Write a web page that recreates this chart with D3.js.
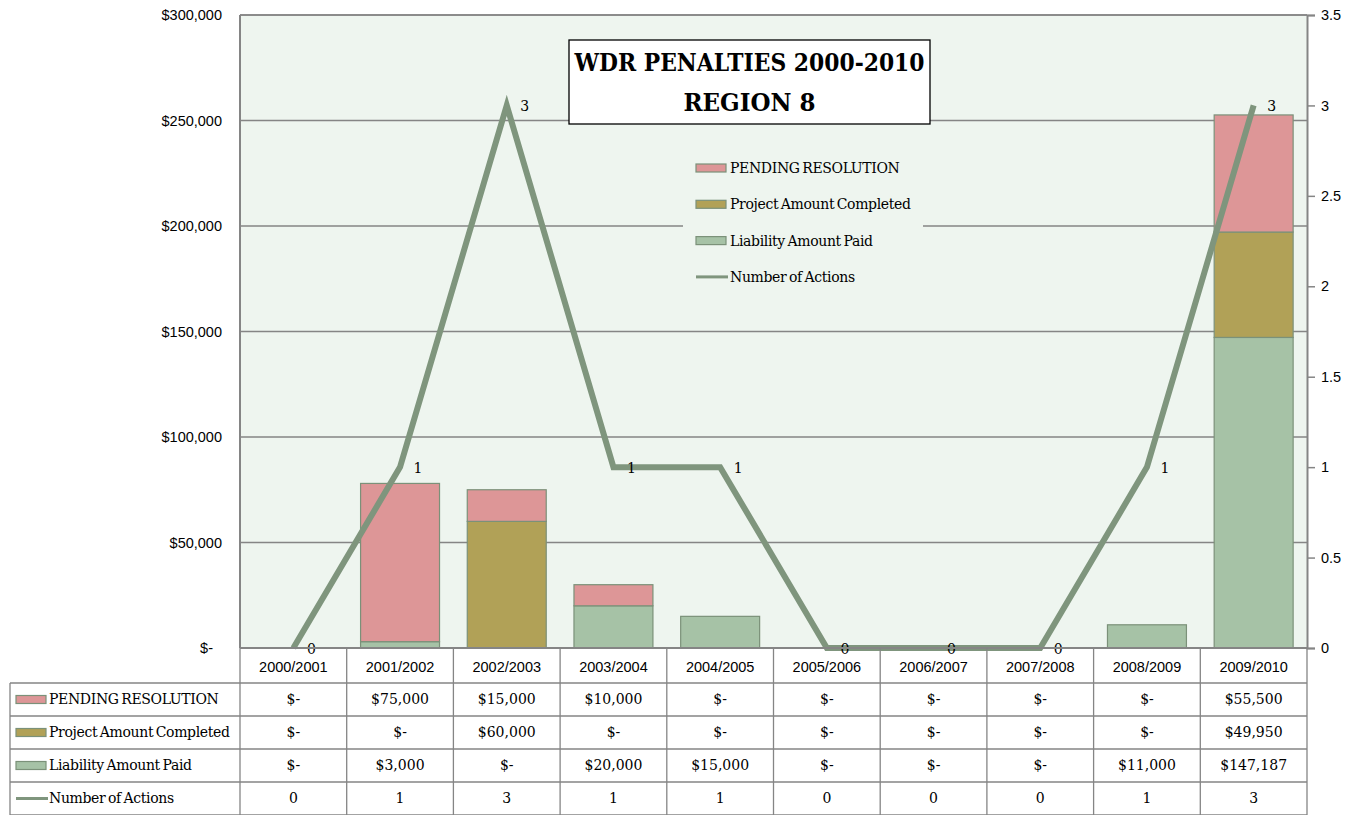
<!DOCTYPE html>
<html>
<head>
<meta charset="utf-8">
<script src="https://cdn.jsdelivr.net/npm/d3@7"></script>
<style>
  body { margin: 0; background: #fff; }
  svg { display: block; }
  .tbl { font-family: "DejaVu Serif", serif; font-size: 14px; fill: #000; }
  .key { letter-spacing: -0.35px; word-spacing: -1.5px; }
  .axis text { font-family: "Liberation Sans", Arial, sans-serif; font-size: 14.5px; fill: #000; }
</style>
</head>
<body>
<div id="chart"></div>
<script>
// data
var categories = ["2000/2001", "2001/2002", "2002/2003", "2003/2004", "2004/2005",
                  "2005/2006", "2006/2007", "2007/2008", "2008/2009", "2009/2010"];
var pending   = [0, 75000, 15000, 10000, 0, 0, 0, 0, 0, 55500];
var project   = [0, 0, 60000, 0, 0, 0, 0, 0, 0, 49950];
var liability = [0, 3000, 0, 20000, 15000, 0, 0, 0, 11000, 147187];
var actions   = [0, 1, 3, 1, 1, 0, 0, 0, 1, 3];
var seriesNames = ["PENDING RESOLUTION", "Project Amount Completed", "Liability Amount Paid", "Number of Actions"];
var leftTicks  = [0, 50000, 100000, 150000, 200000, 250000, 300000];
var rightTicks = [0, 0.5, 1, 1.5, 2, 2.5, 3, 3.5];
var titleLines = ["WDR PENALTIES 2000-2010", "REGION 8"];

var width = 1359, height = 815;
var plotL = 240, plotR = 1307, plotT = 15, plotB = 648;
var colors = {pend: "#dd9697", proj: "#b1a157", liab: "#a6c2a6", line: "#7f957d", edge: "#7b9179"};
var gridColor = "#858585";

var svg = d3.select("#chart").append("svg")
            .attr("width", width)
            .attr("height", height);

var x = d3.scaleBand()
          .domain(categories)
          .range([plotL, plotR])
          .paddingInner(0.26)
          .paddingOuter(0.13);
var xCenter = function(c) { return x(c) + x.bandwidth() / 2; };
var step = (plotR - plotL) / categories.length;

var yLeft = d3.scaleLinear().domain([0, 300000]).range([plotB, plotT]);
var yRight = d3.scaleLinear().domain([0, 3.5]).range([plotB, plotT]);

// plot background
svg.append("rect")
   .attr("x", plotL).attr("y", plotT)
   .attr("width", plotR - plotL).attr("height", plotB - plotT)
   .attr("fill", "#eef5ef");

// gridlines
svg.append("g").selectAll("line")
   .data(leftTicks.filter(function(d) { return d > 0; }))
   .enter().append("line")
   .attr("x1", plotL).attr("x2", plotR)
   .attr("y1", function(d) { return yLeft(d); })
   .attr("y2", function(d) { return yLeft(d); })
   .attr("stroke", gridColor).attr("stroke-width", 1.3);

// left axis
var leftAxis = d3.axisLeft(yLeft)
                 .tickValues(leftTicks)
                 .tickSize(0)
                 .tickPadding(18)
                 .tickFormat(function(d) { return d === 0 ? "$-" : "$" + d3.format(",")(d); });
var gl = svg.append("g").attr("class", "axis")
            .attr("transform", "translate(" + plotL + ",0)")
            .call(leftAxis);
gl.select(".domain").remove();
gl.selectAll(".tick text").attr("dx", function(d) { return d === 0 ? -9 : 0; });

// right axis
var rightAxis = d3.axisRight(yRight)
                  .tickValues(rightTicks)
                  .tickSize(8)
                  .tickPadding(6)
                  .tickFormat(function(d) { return d; });
var gr = svg.append("g").attr("class", "axis")
            .attr("transform", "translate(" + plotR + ",0)")
            .call(rightAxis);
gr.select(".domain").attr("stroke", gridColor).attr("stroke-width", 2);
gr.selectAll(".tick line").attr("stroke", gridColor).attr("stroke-width", 1.5);

// left axis line
svg.append("line")
   .attr("x1", plotL).attr("x2", plotL)
   .attr("y1", plotT).attr("y2", plotB)
   .attr("stroke", gridColor).attr("stroke-width", 2);
svg.append("line")
   .attr("x1", plotL).attr("x2", plotR)
   .attr("y1", plotT).attr("y2", plotT)
   .attr("stroke", gridColor).attr("stroke-width", 1.3);

// stacked bars
var rows = categories.map(function(c, i) {
  return {cat: c, liab: liability[i], proj: project[i], pend: pending[i]};
});
var stack = d3.stack().keys(["liab", "proj", "pend"]);
var layers = stack(rows);

svg.append("g").selectAll("g")
   .data(layers)
   .enter().append("g")
   .attr("fill", function(d) { return colors[d.key]; })
   .selectAll("rect")
   .data(function(d) { return d.filter(function(p) { return p[1] > p[0]; }); })
   .enter().append("rect")
   .attr("x", function(d) { return x(d.data.cat); })
   .attr("width", x.bandwidth())
   .attr("y", function(d) { return yLeft(d[1]); })
   .attr("height", function(d) { return yLeft(d[0]) - yLeft(d[1]); })
   .attr("stroke", colors.edge)
   .attr("stroke-width", 1.2);

// number of actions line
var line = d3.line()
             .x(function(d, i) { return xCenter(categories[i]); })
             .y(function(d) { return yRight(d); });
svg.append("path")
   .datum(actions)
   .attr("d", line)
   .attr("fill", "none")
   .attr("stroke", colors.line)
   .attr("stroke-width", 6)
   .attr("stroke-linejoin", "miter");

svg.append("g").selectAll("text")
   .data(actions)
   .enter().append("text")
   .attr("class", "tbl")
   .attr("x", function(d, i) { return xCenter(categories[i]) + 18; })
   .attr("y", function(d) { return yRight(d) + 1; })
   .attr("dy", "0.35em")
   .attr("text-anchor", "middle")
   .text(function(d) { return d; });

// x-axis baseline
svg.append("line")
   .attr("x1", plotL).attr("x2", plotR)
   .attr("y1", plotB).attr("y2", plotB)
   .attr("stroke", gridColor).attr("stroke-width", 2);

// title box
var title = svg.append("g");
title.append("rect")
     .attr("x", 569).attr("y", 40)
     .attr("width", 361).attr("height", 84)
     .attr("fill", "#fff").attr("stroke", "#000").attr("stroke-width", 1.3);
title.selectAll("text")
     .data(titleLines)
     .enter().append("text")
     .attr("x", 749.5)
     .attr("y", function(d, i) { return 71 + i * 40; })
     .attr("text-anchor", "middle")
     .attr("font-family", "'DejaVu Serif', serif")
     .attr("font-weight", "bold")
     .attr("font-size", 25)
     .attr("textLength", function(d, i) { return i === 0 ? 350 : 132; })
     .attr("lengthAdjust", "spacingAndGlyphs")
     .text(function(d) { return d; });

// legend
function keySwatch(g, i, sx, sy) {
  if (i < 3) {
    g.append("rect")
     .attr("x", sx).attr("y", sy - 4)
     .attr("width", 30).attr("height", 8)
     .attr("fill", [colors.pend, colors.proj, colors.liab][i])
     .attr("stroke", colors.edge).attr("stroke-width", 1.2);
  } else {
    g.append("line")
     .attr("x1", sx).attr("x2", sx + 32)
     .attr("y1", sy).attr("y2", sy)
     .attr("stroke", colors.line).attr("stroke-width", 3);
  }
}

var legend = svg.append("g");
legend.append("rect")
      .attr("x", 683).attr("y", 150)
      .attr("width", 240).attr("height", 140)
      .attr("fill", "#eef5ef");
seriesNames.forEach(function(name, i) {
  var ly = 168 + i * 36.3;
  keySwatch(legend, i, 696, ly);
  legend.append("text")
        .attr("class", "tbl key")
        .attr("x", 730).attr("y", ly)
        .attr("dy", "0.35em")
        .text(name);
});

// data table
var tableTop = plotB, headerH = 35, rowH = 33, tableL = 10;
var tbl = svg.append("g");

tbl.selectAll("text.cat")
   .data(categories)
   .enter().append("text")
   .attr("class", "cat")
   .attr("x", function(d) { return xCenter(d); })
   .attr("y", tableTop + headerH / 2 + 1)
   .attr("dy", "0.35em")
   .attr("text-anchor", "middle")
   .attr("font-family", "'Liberation Sans', sans-serif")
   .attr("font-size", 14.5)
   .text(function(d) { return d; });

var tableRows = [pending, project, liability, actions];
var money = function(v) { return v === 0 ? "$-" : "$" + d3.format(",")(v); };
tableRows.forEach(function(vals, r) {
  var ry = tableTop + headerH + r * rowH;
  keySwatch(tbl, r, 16, ry + rowH / 2);
  tbl.append("text")
     .attr("class", "tbl key")
     .attr("x", 49).attr("y", ry + rowH / 2)
     .attr("dy", "0.35em")
     .text(seriesNames[r]);
  tbl.selectAll("text.v" + r)
     .data(vals)
     .enter().append("text")
     .attr("class", "tbl v" + r)
     .attr("x", function(d, i) { return xCenter(categories[i]); })
     .attr("y", ry + rowH / 2)
     .attr("dy", "0.35em")
     .attr("text-anchor", "middle")
     .text(function(d) { return r === 3 ? d : money(d); });
});

// table grid
var hLines = [0, 1, 2, 3, 4].map(function(k) { return tableTop + headerH + k * rowH; });
tbl.selectAll("line.h")
   .data(hLines)
   .enter().append("line")
   .attr("x1", tableL).attr("x2", plotR)
   .attr("y1", function(d) { return d; })
   .attr("y2", function(d) { return d; })
   .attr("stroke", gridColor).attr("stroke-width", 1.3);

var vLines = d3.range(categories.length + 1).map(function(k) { return plotL + k * step; });
tbl.selectAll("line.v")
   .data(vLines)
   .enter().append("line")
   .attr("x1", function(d) { return d; })
   .attr("x2", function(d) { return d; })
   .attr("y1", tableTop)
   .attr("y2", height)
   .attr("stroke", gridColor).attr("stroke-width", 1.3);
tbl.append("line")
   .attr("x1", tableL).attr("x2", tableL)
   .attr("y1", tableTop + headerH).attr("y2", height)
   .attr("stroke", gridColor).attr("stroke-width", 1.3);
</script>
</body>
</html>
